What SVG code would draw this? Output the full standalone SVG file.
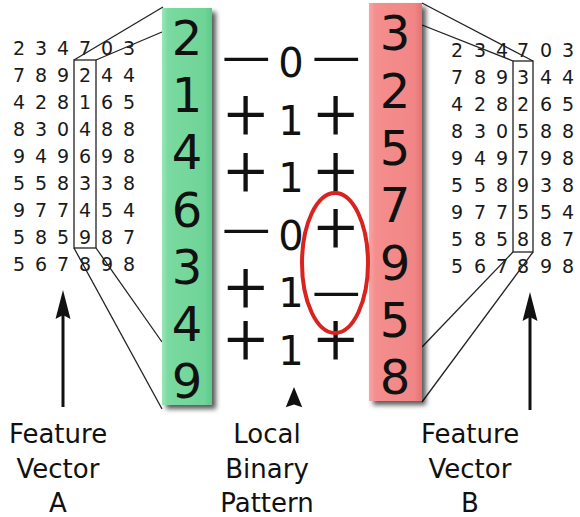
<svg xmlns="http://www.w3.org/2000/svg" width="580" height="517" viewBox="0 0 580 517">
<style>
.mat{font-family:"DejaVu Sans",sans-serif;font-size:19px;fill:#1a1a1a;text-anchor:middle}
.bar{font-family:"DejaVu Sans",sans-serif;font-size:48px;fill:#111;text-anchor:middle}
.lbp{font-family:"DejaVu Sans",sans-serif;font-size:40px;fill:#111;text-anchor:middle}
.sgn{font-family:Roboto,"DejaVu Sans",sans-serif;font-weight:300;font-size:74px;fill:#111;text-anchor:middle}
.mns{font-family:Roboto,"DejaVu Sans",sans-serif;font-weight:300;font-size:67px;fill:#111;text-anchor:middle}
.lab{font-family:"DejaVu Sans",sans-serif;font-size:26px;fill:#111;text-anchor:middle}
.box{fill:none;stroke:#222;stroke-width:1.3}
.con{stroke:#222;stroke-width:1.3;fill:none}
.shaft{stroke:#111;stroke-width:3}
</style>
<defs>
<linearGradient id="gg" x1="0" x2="1" y1="0" y2="0">
<stop offset="0" stop-color="#9be6b8"/><stop offset="0.12" stop-color="#7adaa0"/><stop offset="0.85" stop-color="#6fd498"/><stop offset="1" stop-color="#5fc88a"/>
</linearGradient>
<linearGradient id="rg" x1="0" x2="1" y1="0" y2="0">
<stop offset="0" stop-color="#f8a4a4"/><stop offset="0.12" stop-color="#f58e8e"/><stop offset="0.85" stop-color="#f28686"/><stop offset="1" stop-color="#e47272"/>
</linearGradient>
<filter id="sh" x="-20%" y="-5%" width="150%" height="115%">
<feDropShadow dx="4" dy="4" stdDeviation="2.5" flood-color="#000" flood-opacity="0.65"/>
</filter>
<path id="ah" d="M0,0 L7.5,29 L0,25 L-7.5,29 Z" fill="#111"/>
</defs>

<g id="matrixA">
<text class="mat" x="19 41 63 85 107 129" y="55">234703</text>
<text class="mat" x="19 41 63 85 107 129" y="82">789244</text>
<text class="mat" x="19 41 63 85 107 129" y="109">428165</text>
<text class="mat" x="19 41 63 85 107 129" y="136">830488</text>
<text class="mat" x="19 41 63 85 107 129" y="163">949698</text>
<text class="mat" x="19 41 63 85 107 129" y="190">558338</text>
<text class="mat" x="19 41 63 85 107 129" y="217">977454</text>
<text class="mat" x="19 41 63 85 107 129" y="244">585987</text>
<text class="mat" x="19 41 63 85 107 129" y="271">567898</text>
<rect class="box" x="74" y="60" width="22" height="188"/>
</g>

<g id="matrixB">
<text class="mat" x="457 480 502 523 546 568" y="57">234703</text>
<text class="mat" x="457 480 502 523 546 568" y="84">789344</text>
<text class="mat" x="457 480 502 523 546 568" y="111">428265</text>
<text class="mat" x="457 480 502 523 546 568" y="138">830588</text>
<text class="mat" x="457 480 502 523 546 568" y="165">949798</text>
<text class="mat" x="457 480 502 523 546 568" y="192">558938</text>
<text class="mat" x="457 480 502 523 546 568" y="219">977554</text>
<text class="mat" x="457 480 502 523 546 568" y="246">585887</text>
<text class="mat" x="457 480 502 523 546 568" y="273">567898</text>
<rect class="box" x="513" y="61" width="20" height="191"/>
</g>

<g id="connectors">
<line class="con" x1="74" y1="60" x2="163" y2="7"/>
<line class="con" x1="96" y1="60" x2="162" y2="32"/>
<line class="con" x1="96" y1="248" x2="162" y2="342"/>
<line class="con" x1="74" y1="248" x2="162" y2="409"/>
<line class="con" x1="533" y1="61" x2="422" y2="3"/>
<line class="con" x1="513" y1="61" x2="422" y2="25"/>
<line class="con" x1="513" y1="252" x2="422" y2="347"/>
<line class="con" x1="533" y1="252" x2="422" y2="402"/>
</g>

<g id="barA">
<rect x="162" y="8" width="50" height="397" fill="url(#gg)" filter="url(#sh)"/>
<text class="bar" x="187" y="55">2</text>
<text class="bar" x="187" y="112">1</text>
<text class="bar" x="187" y="169">4</text>
<text class="bar" x="187" y="227">6</text>
<text class="bar" x="187" y="284">3</text>
<text class="bar" x="187" y="341">4</text>
<text class="bar" x="187" y="398">9</text>
</g>

<g id="barB">
<rect x="369" y="3" width="53" height="398" fill="url(#rg)" filter="url(#sh)"/>
<text class="bar" x="395" y="50">3</text>
<text class="bar" x="395" y="108">2</text>
<text class="bar" x="395" y="165">5</text>
<text class="bar" x="395" y="222">7</text>
<text class="bar" x="395" y="280">9</text>
<text class="bar" x="395" y="337">5</text>
<text class="bar" x="395" y="394">8</text>
</g>

<g id="lbp">
<text class="lbp" x="291" y="77">0</text>
<text class="lbp" x="291" y="135">1</text>
<text class="lbp" x="291" y="192">1</text>
<text class="lbp" x="291" y="250">0</text>
<text class="lbp" x="291" y="307">1</text>
<text class="lbp" x="291" y="365">1</text>
<text class="mns" x="246 336" y="83">——</text>
<text class="sgn" x="246 336" y="140">++</text>
<text class="sgn" x="246 336" y="197">++</text>
<text class="mns" x="246" y="255">—</text>
<text class="sgn" x="336" y="253">+</text>
<text class="sgn" x="246" y="313">+</text>
<text class="mns" x="336" y="318">—</text>
<text class="sgn" x="246 336" y="365">++</text>
<ellipse cx="335" cy="263" rx="33" ry="70" fill="none" stroke="#d9231f" stroke-width="4"/>
<use href="#ah" transform="translate(294,387) scale(1.1,0.7)"/>
</g>

<g id="arrowA">
<line class="shaft" x1="63" y1="407" x2="63" y2="312"/>
<use href="#ah" x="63" y="290"/>
</g>
<g id="arrowB">
<line class="shaft" x1="530" y1="410" x2="530" y2="314"/>
<use href="#ah" x="530" y="292"/>
</g>

<g id="labelA">
<text class="lab" x="58" y="443">Feature</text>
<text class="lab" x="58" y="478">Vector</text>
<text class="lab" x="58" y="512">A</text>
</g>
<g id="labelLBP">
<text class="lab" x="267" y="443">Local</text>
<text class="lab" x="267" y="478">Binary</text>
<text class="lab" x="267" y="512">Pattern</text>
</g>
<g id="labelB">
<text class="lab" x="470" y="443">Feature</text>
<text class="lab" x="470" y="478">Vector</text>
<text class="lab" x="470" y="512">B</text>
</g>
</svg>
